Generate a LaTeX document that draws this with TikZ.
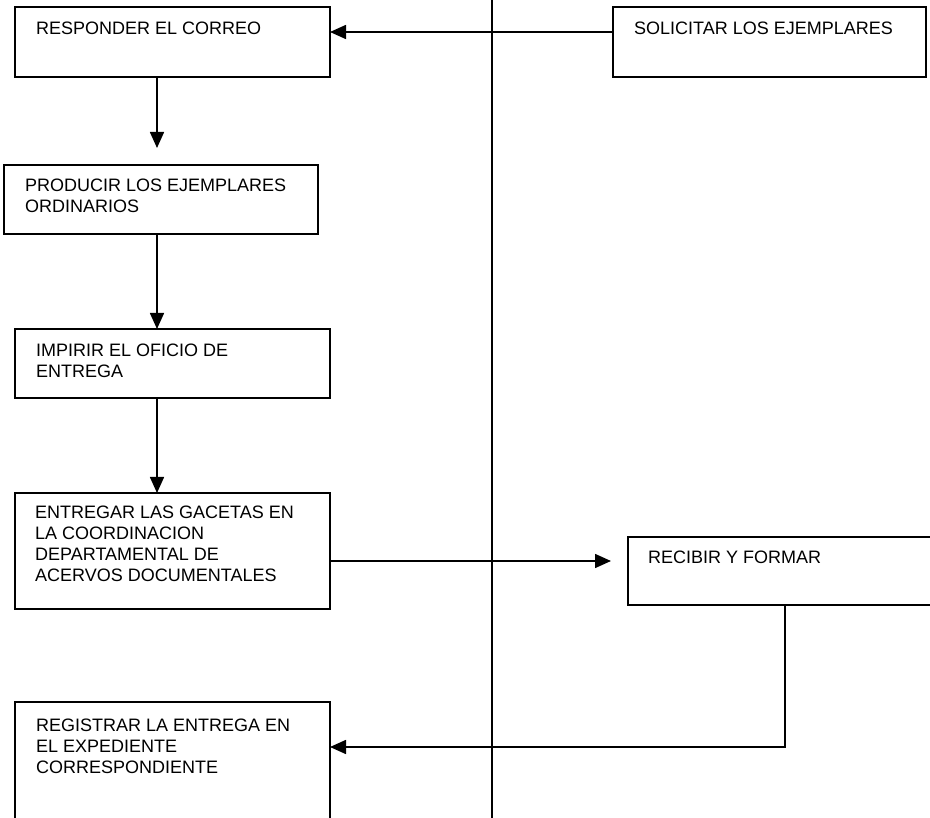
\documentclass[tikz,border=0pt]{standalone}
\usepackage{fontspec}
\setmainfont{Liberation Sans}
\usetikzlibrary{arrows.meta}
\begin{document}
\begin{tikzpicture}[x=1pt,y=-1pt,
  box/.style={draw, line width=1.6pt, anchor=north west, inner sep=0pt, outer sep=0pt},
  lbl/.style={anchor=north west, inner sep=0pt, align=left, font=\fontsize{18}{20.8}\selectfont},
  arr/.style={line width=1.6pt, -{Triangle[length=16pt,width=14pt]}},
  lane/.style={line width=1.1pt}]
\useasboundingbox (0,0) rectangle (930,818);
\clip (0,0) rectangle (930,818);
% boxes
\node[box, minimum width=315pt, minimum height=70pt] (b1) at (15,7) {};
\node[box, minimum width=314pt, minimum height=69pt] (b2) at (4,165) {};
\node[box, minimum width=315pt, minimum height=69pt] (b3) at (15,329) {};
\node[box, minimum width=315pt, minimum height=116pt] (b4) at (15,493) {};
\node[box, minimum width=315pt, minimum height=140pt] (b5) at (15,702) {};
\node[box, minimum width=313pt, minimum height=70pt] (sol) at (613,7) {};
\node[box, minimum width=320pt, minimum height=68pt] (rec) at (628,537) {};
% texts
\node[lbl] (t1) at (36,22) {RESPONDER EL CORREO};
\node[lbl] (t2) at (25,179) {PRODUCIR LOS EJEMPLARES\\ORDINARIOS};
\node[lbl] (t3) at (36,344) {IMPIRIR EL OFICIO DE\\ENTREGA};
\node[lbl] (t4) at (35,506) {ENTREGAR LAS GACETAS EN\\LA COORDINACION\\DEPARTAMENTAL DE\\ACERVOS DOCUMENTALES};
\node[lbl] (t5) at (36,719) {REGISTRAR LA ENTREGA EN\\EL EXPEDIENTE\\CORRESPONDIENTE};
\node[lbl] (ts) at (634,22) {SOLICITAR LOS EJEMPLARES};
\node[lbl] (tr) at (648,551) {RECIBIR Y FORMAR};
% lane divider
\coordinate (lt) at (492,0);
\coordinate (lb) at (492,818);
\draw[lane] (lt) -- (lb);
% connectors
\coordinate (c1) at (157,32);
\draw[arr] (sol.west |- c1) -- (b1.east |- c1);
\coordinate (c2) at (157,148);
\draw[arr] (b1.south -| c2) -- (c2);
\draw[arr] (b2.south -| c2) -- (b3.north -| c2);
\draw[arr] (b3.south -| c2) -- (b4.north -| c2);
\coordinate (c3) at (611,561);
\draw[arr] (b4.east |- c3) -- (c3);
\coordinate (c4) at (785,747);
\draw[arr] (rec.south -| c4) -- (c4) -- (b5.east |- c4);
\end{tikzpicture}
\end{document}
